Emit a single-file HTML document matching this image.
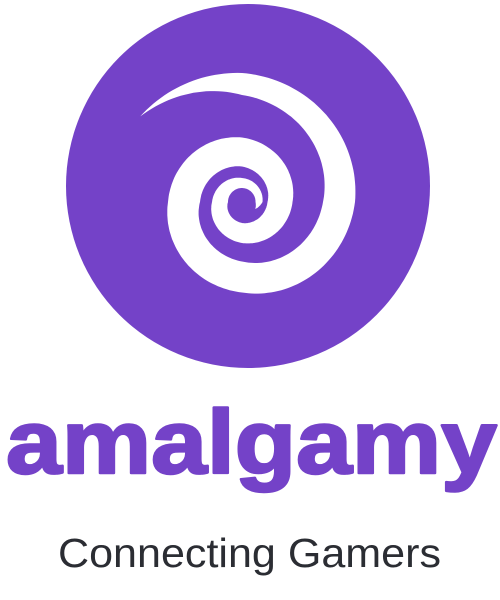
<!DOCTYPE html>
<html><head><meta charset="utf-8"><style>
html,body{margin:0;padding:0;background:#fff;width:500px;height:600px;overflow:hidden}
svg{display:block}
</style></head><body>
<svg id="logo" width="500" height="600" viewBox="0 0 500 600">
  <circle cx="248" cy="186" r="182" fill="#7442C8"/>
  <path id="spiral" fill="#fff"/>
  <text x="6" y="473" textLength="491" lengthAdjust="spacingAndGlyphs" font-family="Liberation Sans, sans-serif" font-weight="bold" font-size="90" fill="#7442C8" stroke="#7442C8" stroke-width="2.5" stroke-linejoin="round">amalgamy</text>
  <text x="58" y="567" textLength="383" lengthAdjust="spacingAndGlyphs" font-family="Liberation Sans, sans-serif" font-size="41" fill="#2b2d33">Connecting Gamers</text>
</svg>
<script>
const cx=242, cy=202;
// [angle deg, centerline radius, width]
const keys=[[-140,133,0],[-90,118,22],[0,97,32],[90,75,31],[180,58,32],[270,50,29],[360,38,25],[450,31,20],[540,22,16],[630,19,10],[720,17,7],[748,15,0]];
function interp(a){
  for(let i=0;i<keys.length-1;i++){
    const k0=keys[i],k1=keys[i+1];
    if(a>=k0[0]&&a<=k1[0]){const t=(a-k0[0])/(k1[0]-k0[0]);return [k0[1]+(k1[1]-k0[1])*t,k0[2]+(k1[2]-k0[2])*t];}
  }
  return [keys[keys.length-1][1],0];
}
const outer=[],inner=[];
for(let a=-140;a<=748;a+=2){
  const [r,w]=interp(a);const rad=a*Math.PI/180;
  outer.push([cx+(r+w/2)*Math.cos(rad),cy+(r+w/2)*Math.sin(rad)]);
  inner.push([cx+(r-w/2)*Math.cos(rad),cy+(r-w/2)*Math.sin(rad)]);
}
const pts=outer.concat(inner.reverse());
document.getElementById('spiral').setAttribute('d','M'+pts.map(p=>p[0].toFixed(1)+','+p[1].toFixed(1)).join('L')+'Z');
</script>
</body></html>
